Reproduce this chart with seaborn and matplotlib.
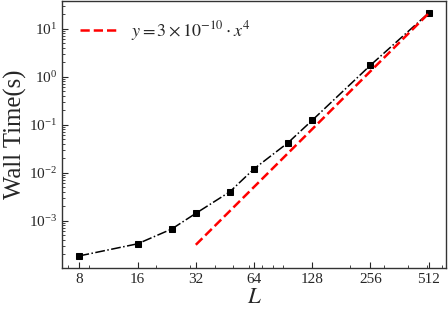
import numpy as np
import pandas as pd
import matplotlib
matplotlib.use("Agg")
import matplotlib.pyplot as plt
import matplotlib.ticker as mticker
import seaborn as sns

L_vals = [8, 16, 24, 32, 48, 64, 96, 128, 256, 512]
wall_time = [1.85e-4, 3.3e-4, 6.7e-4, 1.42e-3, 4.0e-3, 1.2e-2, 4.2e-2, 0.123, 1.72, 21.0]
fit_L = [32, 512]
fit_coef = 3e-10
fit_power = 4
x_ticks = [8, 16, 32, 64, 128, 256, 512]

sns.set_style("ticks")
plt.rcParams['font.family'] = ['Liberation Serif', 'DejaVu Serif']
plt.rcParams['mathtext.fontset'] = 'stix'
plt.rcParams['xtick.direction'] = 'in'
plt.rcParams['ytick.direction'] = 'in'

fig = plt.figure(figsize=(4.48, 3.17), dpi=100)
ax = fig.add_axes([62/448, 49/317, (446-62)/448, (316-49)/317])

df = pd.DataFrame({"L": L_vals, "t": wall_time})
fit_y = [fit_coef * x ** fit_power for x in fit_L]
df_fit = pd.DataFrame({"L": fit_L, "t": fit_y})

sns.lineplot(data=df, x="L", y="t", ax=ax, color="black", linestyle="-.",
             marker="s", markersize=4.5, markeredgecolor="black", linewidth=1.1)
sns.lineplot(data=df_fit, x="L", y="t", ax=ax, color="red", linestyle="--",
             linewidth=1.8, label=r"$y=3\times10^{-10}\cdot x^4$")

ax.set_xscale("log")
ax.set_yscale("log")
ax.xaxis.set_major_locator(mticker.FixedLocator(x_ticks))
ax.xaxis.set_major_formatter(mticker.FixedFormatter([str(v) for v in x_ticks]))
ax.xaxis.set_minor_locator(mticker.LogLocator(base=10, subs=np.arange(2, 10)))
ax.xaxis.set_minor_formatter(mticker.NullFormatter())
ax.yaxis.set_minor_locator(mticker.LogLocator(base=10, subs=np.arange(2, 10), numticks=20))
ax.yaxis.set_minor_formatter(mticker.NullFormatter())

ax.set_xlabel(r"$L$", fontsize=16.5, labelpad=1)
ax.set_ylabel("Wall Time(s)", fontsize=17.8, labelpad=1.5)
ax.tick_params(axis="both", which="major", labelsize=11, length=4, width=0.8)
ax.tick_params(axis="both", which="minor", length=2, width=0.6)
for s in ax.spines.values():
    s.set_linewidth(1.0)
    s.set_color("#333333")

ax.legend(loc="upper left", frameon=False, fontsize=13, handlelength=2.0,
          borderaxespad=0.6)

fig.savefig("out.png", dpi=100)
